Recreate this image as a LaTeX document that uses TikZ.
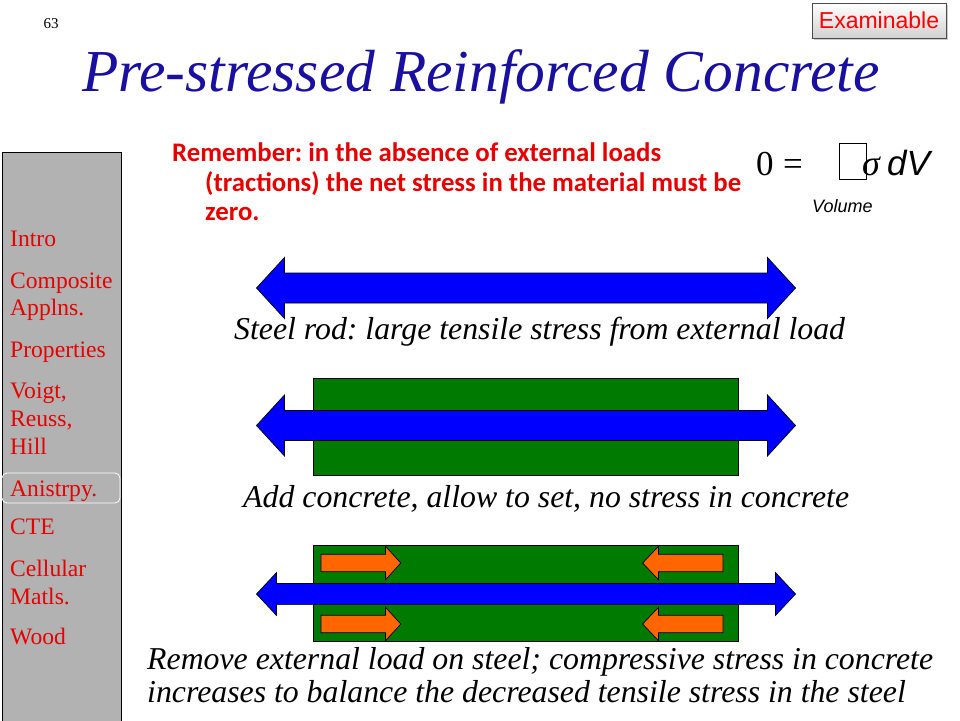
\documentclass[tikz,border=0pt]{standalone}
\usepackage{fontspec}
\setmainfont{Liberation Serif}
\newfontfamily\arialf{Liberation Sans}
\newfontfamily\calib{Carlito}
\usetikzlibrary{shadows}
\frenchspacing
\definecolor{titleblue}{RGB}{26,16,160}
\definecolor{sidegrey}{RGB}{178,178,178}
\definecolor{steelblue}{RGB}{0,0,255}
\definecolor{concrete}{RGB}{0,122,0}
\definecolor{orangearr}{RGB}{255,102,0}
\definecolor{txtred}{RGB}{230,0,0}
\tikzset{
  bluearrow/.style={fill=steelblue, draw=black, line width=0.7pt, line join=miter},
  orangearrow/.style={fill=orangearr, draw=black, line width=0.7pt},
  concretebox/.style={fill=concrete, draw=black, line width=0.8pt},
  caption/.style={anchor=base west, inner sep=0, font=\fontsize{31.8}{36}\selectfont\itshape},
  sidetext/.style={anchor=base west, inner sep=0, text=txtred, font=\fontsize{23.6}{28}\selectfont},
  remtext/.style={anchor=base west, inner sep=0, text=txtred, font=\calib\bfseries\fontsize{26.8}{30}\selectfont},
  eqtext/.style={anchor=base west, inner sep=0, font=\fontsize{35}{40}\selectfont},
}
% #1 left tip x, #2 right tip x, #3 centre y, #4 shaft half, #5 head half, #6 head length
\newcommand{\DblArrow}[6]{%
  \draw[bluearrow] (#1,#3) -- ({#1+#6},{#3-#5}) -- ({#1+#6},{#3-#4}) -- ({#2-#6},{#3-#4})
    -- ({#2-#6},{#3-#5}) -- (#2,#3) -- ({#2-#6},{#3+#5}) -- ({#2-#6},{#3+#4})
    -- ({#1+#6},{#3+#4}) -- ({#1+#6},{#3+#5}) -- cycle;}
% #1 tail x, #2 head base x, #3 tip x, #4 centre y, #5 shaft half, #6 head half
\newcommand{\SglArrow}[6]{%
  \draw[orangearrow] (#1,{#4-#5}) -- (#2,{#4-#5}) -- (#2,{#4-#6}) -- (#3,#4)
    -- (#2,{#4+#6}) -- (#2,{#4+#5}) -- (#1,{#4+#5}) -- cycle;}
\begin{document}
\begin{tikzpicture}[x=1pt,y=-1pt]
\useasboundingbox[fill=white] (0,0) rectangle (960,720);
% page number
\node[anchor=base, inner sep=0, font=\fontsize{15}{18}\selectfont] (pg) at (51,28) {63};
% examinable
\node[draw=black!70, line width=0.6pt, top color=white, bottom color=black!18,
      drop shadow={shadow xshift=2pt, shadow yshift=-2pt, opacity=0.4},
      minimum width=134pt, minimum height=35pt, inner sep=0,
      text=red, font=\arialf\fontsize{23}{26}\selectfont] (exam) at (879,20.5) {Examinable};
% title
\node[anchor=base west, inner sep=0, text=titleblue, font=\fontsize{59.5}{66}\selectfont\itshape] (title) at (82,91) {Pre-stressed Reinforced Concrete};
% sidebar
\draw[fill=sidegrey, draw=black, line width=0.8pt] (2,152) rectangle (121,722);
\draw[white, line width=0.8pt, rounded corners=5pt] (2,473) rectangle (120,503);
\node[sidetext] (s1) at (10,246) {Intro};
\node[sidetext] (s2) at (10,288) {Composite};
\node[sidetext] (s3) at (10,315) {Applns.};
\node[sidetext] (s4) at (10,357) {Properties};
\node[sidetext] (s5) at (10,398) {Voigt,};
\node[sidetext] (s6) at (10,426) {Reuss,};
\node[sidetext] (s7) at (10,454) {Hill};
\node[sidetext] (s8) at (10,496) {Anistrpy.};
\node[sidetext] (s9) at (10,534) {CTE};
\node[sidetext] (s10) at (10,576) {Cellular};
\node[sidetext] (s11) at (10,604) {Matls.};
\node[sidetext] (s12) at (10,644) {Wood};
% remember text
\node[remtext] (r1) at (172,161) {Remember: in the absence of external loads};
\node[remtext] (r2) at (205,191) {(tractions) the net stress in the material must be};
\node[remtext] (r3) at (205,220) {zero.};
% equation
\node[eqtext] (eq0) at (756,175) {0};
\node[eqtext] (eqs) at (783,175) {=};
\draw[black, line width=0.7pt] (839,143) rectangle (866,179);
\node[anchor=base west, inner sep=0, font=\fontsize{36}{40}\selectfont\itshape] (sig) at (862,175) {σ};
\node[anchor=base west, inner sep=0, font=\arialf\itshape\fontsize{35}{40}\selectfont] (dv) at (887,175) {dV};
\node[anchor=base west, inner sep=0, font=\arialf\itshape\fontsize{18}{22}\selectfont] (vol) at (812,212) {Volume};
% row 1
\DblArrow{256.5}{795.5}{288}{15}{30.5}{28}
\node[caption] (c1) at (234,339) {Steel rod: large tensile stress from external load};
% row 2
\draw[concretebox] (313,378) rectangle (738.5,475);
\DblArrow{256.5}{795.5}{425.5}{15}{30.5}{28}
\node[caption] (c2) at (243,507) {Add concrete, allow to set, no stress in concrete};
% row 3
\draw[concretebox] (313,545) rectangle (738.5,641.5);
\SglArrow{321}{385.5}{400.8}{563}{8.7}{16.8}
\SglArrow{321}{385.5}{400.8}{624}{8.7}{16.8}
\SglArrow{723}{658.5}{642.6}{563}{8.7}{16.8}
\SglArrow{723}{658.5}{642.6}{624}{8.7}{16.8}
\DblArrow{256.5}{795.5}{594}{10.6}{21.4}{20}
\node[caption] (c3) at (147,669) {Remove external load on steel; compressive stress in concrete};
\node[caption] (c4) at (147,702) {increases to balance the decreased tensile stress in the steel};
\end{tikzpicture}
\end{document}
